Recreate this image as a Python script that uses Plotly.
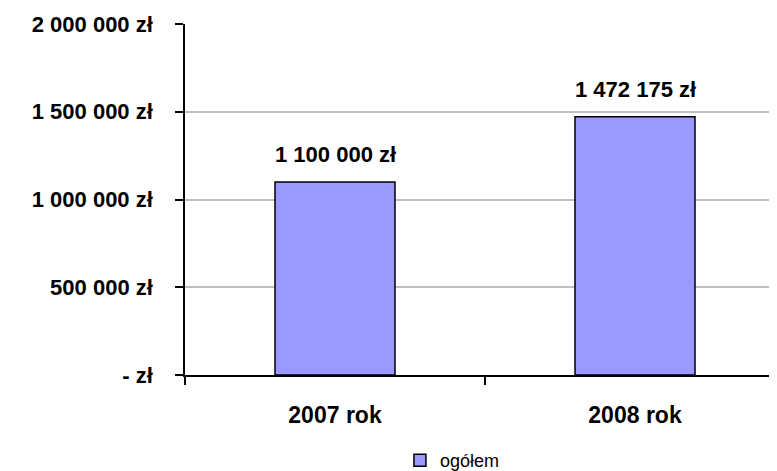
import plotly.graph_objects as go

# Data
categories = ["2007 rok", "2008 rok"]
values = [1100000, 1472175]
value_labels = ["1 100 000 zł", "1 472 175 zł"]
series_name = "ogółem"
y_tick_vals = [0, 500000, 1000000, 1500000, 2000000]
y_tick_text = ["- zł", "500 000 zł", "1 000 000 zł", "1 500 000 zł", "2 000 000 zł"]

FONT = "Liberation Sans, Arial"

fig = go.Figure()

fig.add_trace(go.Bar(
    x=categories, y=values, name=series_name, width=0.4,
    marker=dict(color="#9999FF", line=dict(color="black", width=1.5)),
    showlegend=True,
))

# value labels above bars
for cat, val, lab in zip(categories, values, value_labels):
    fig.add_annotation(x=cat, y=val, text=f"<b>{lab}</b>", showarrow=False,
                       yanchor="bottom", yshift=11, bgcolor="white", borderpad=3,
                       font=dict(family=FONT, size=22, color="black"))

fig.update_layout(
    width=777, height=471,
    margin=dict(l=177, r=0, t=16, b=104),
    plot_bgcolor="white", paper_bgcolor="white",
    font=dict(family=FONT, color="black"),
    legend=dict(orientation="h", xref="container", yref="container",
                x=0.572, xanchor="center", y=0.0, yanchor="bottom",
                font=dict(size=18), itemwidth=30, tracegroupgap=0),
)

fig.update_xaxes(
    type="category", range=[-0.5, 1.5],
    showline=True, linecolor="black", linewidth=1.5,
    ticks="outside", tickson="boundaries", ticklen=8, tickcolor="black", tickwidth=1.5,
    tickfont=dict(size=23), ticklabelstandoff=19,
    tickvals=categories, ticktext=[f"<b>{c}</b>" for c in categories],
    showgrid=False,
)

fig.update_yaxes(
    range=[0, 2000000],
    tickvals=y_tick_vals, ticktext=[f"<b>{t}</b>" for t in y_tick_text],
    tickfont=dict(size=22),
    showline=True, linecolor="black", linewidth=1.5,
    ticks="outside", ticklen=8, tickcolor="black", tickwidth=1.5,
    ticklabelstandoff=18,
    showgrid=True, gridcolor="#C0C0C0", gridwidth=1.5,
    zeroline=False,
)

fig.write_html("out.html")
